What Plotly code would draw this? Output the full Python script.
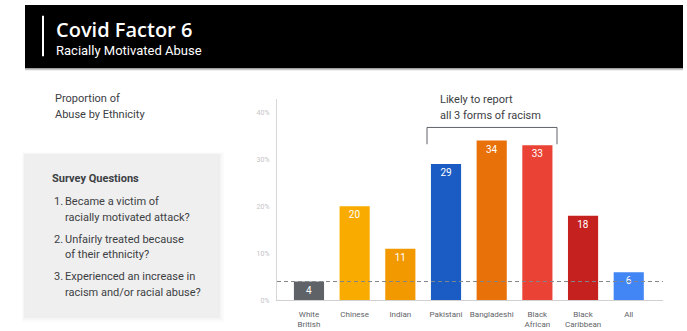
import plotly.graph_objects as go

# Share of respondents reporting racially motivated abuse, by ethnicity
categories = ["White British", "Chinese", "Indian", "Pakistani",
              "Bangladeshi", "Black African", "Black Caribbean", "All"]
tick_labels = ["White<br>British", "Chinese", "Indian", "Pakistani",
               "Bangladeshi", "Black<br>African", "Black<br>Caribbean", "All"]
values = [4, 20, 11, 29, 34, 33, 18, 6]
bar_colors = ["#5f6368", "#f9ab00", "#f29900", "#1a5cc4",
              "#e8710a", "#ea4335", "#c5221f", "#4285f4"]
y_ticks = [0, 10, 20, 30, 40]
y_tick_text = ["0%", "10%", "20%", "30%", "40%"]
reference_level = values[0]  # White British baseline

questions = [
    ("1.", ["Became a victim of", "racially motivated attack?"]),
    ("2.", ["Unfairly treated because", "of their ethnicity?"]),
    ("3.", ["Experienced an increase in", "racism and/or racial abuse?"]),
]

W, H = 687, 331


def px(x):
    return x / W


def py(y):
    return 1 - y / H


BODY = "Roboto, Open Sans, sans-serif"
TEXT = "#3c4043"

fig = go.Figure(
    go.Bar(
        x=categories,
        y=values,
        marker=dict(color=bar_colors, line=dict(width=0)),
        text=[str(v) for v in values],
        textposition="inside",
        insidetextanchor="end",
        textfont=dict(color="white", size=10, family=BODY),
        width=0.66,
        hoverinfo="x+y",
    )
)

fig.update_layout(
    width=W,
    height=H,
    margin=dict(l=0, r=0, t=0, b=0, pad=0),
    paper_bgcolor="white",
    plot_bgcolor="white",
    showlegend=False,
    uniformtext=dict(minsize=9, mode="show"),
    xaxis=dict(
        domain=[px(277), px(663)],
        range=[-0.7, 7.75],
        tickmode="array",
        tickvals=categories,
        ticktext=tick_labels,
        tickfont=dict(size=8, color="#5f6368", family=BODY),
        ticklabelstandoff=6,
        showline=True,
        linecolor="#d0d0d0",
        linewidth=1,
        showgrid=False,
        ticks="",
        zeroline=False,
        fixedrange=True,
    ),
    yaxis=dict(
        domain=[py(304), py(100)],
        range=[0, 42.9],
        tickmode="array",
        tickvals=y_ticks,
        ticktext=y_tick_text,
        tickfont=dict(size=7, color="#c4c4c4", family=BODY),
        showline=True,
        linecolor="#d8d8d8",
        linewidth=1,
        showgrid=False,
        ticks="",
        ticklabelstandoff=5,
        zeroline=False,
        fixedrange=True,
    ),
)

shapes = [
    # header band with soft underline
    dict(type="rect", xref="paper", yref="paper", x0=px(25), x1=px(683),
         y0=py(71), y1=py(69), fillcolor="#c8c8c8", line=dict(width=0), layer="below"),
    dict(type="rect", xref="paper", yref="paper", x0=px(25), x1=px(683),
         y0=py(69), y1=py(5), fillcolor="black", line=dict(width=0), layer="below"),
    dict(type="rect", xref="paper", yref="paper", x0=px(42), x1=px(44),
         y0=py(57), y1=py(16), fillcolor="white", line=dict(width=0)),
]

# survey panel with a faint drop shadow
for g, op in [(6, 0.015), (4, 0.02), (2, 0.03)]:
    shapes.append(dict(type="rect", xref="paper", yref="paper",
                       x0=px(25 - g / 2), x1=px(218 + g), y0=py(320 + g), y1=py(157 - g / 2),
                       fillcolor=f"rgba(0,0,0,{op})", line=dict(width=0), layer="below"))
shapes.append(dict(type="rect", xref="paper", yref="paper",
                   x0=px(25), x1=px(218), y0=py(320), y1=py(157),
                   fillcolor="#efefef", line=dict(width=0), layer="below"))

# bracket over the three highest groups
shapes.append(dict(type="path", xref="paper", yref="paper",
                   path=(f"M {px(427)},{py(146)} L {px(427)},{py(129)} "
                         f"L {px(557)},{py(129)} L {px(557)},{py(146)}"),
                   line=dict(color="#5f6368", width=1)))

# dashed reference line at the White British level
shapes.append(dict(type="line", xref="paper", yref="y",
                   x0=px(277), x1=px(663), y0=reference_level, y1=reference_level,
                   line=dict(color="#80868b", width=1, dash="4px,3px")))

fig.update_layout(shapes=shapes)

ann = []


def label(x, y, text, size, color=TEXT, bold=False, family=BODY, anchor="left", weight=None):
    font = dict(size=size, color=color, family=family)
    if weight:
        font["weight"] = weight
    ann.append(dict(xref="paper", yref="paper", x=px(x), y=py(y),
                    xanchor=anchor, yanchor="middle", showarrow=False,
                    text=f"<b>{text}</b>" if bold else text, font=font))


label(54, 30, "Covid Factor 6", 20, color="white", family="Open Sans, sans-serif", weight=600)
label(54, 51, "Racially Motivated Abuse", 13, color="white")

label(53, 100, "Proportion of", 11)
label(53, 116, "Abuse by Ethnicity", 11)

label(50, 181, "Survey Questions", 11, bold=True)
y0 = 204
for num, lines in questions:
    label(52, y0, num, 11)
    label(63, y0, lines[0], 11)
    label(63, y0 + 16, lines[1], 11)
    y0 += 38

label(438, 101, "Likely to report", 11)
label(438, 117, "all 3 forms of racism", 11)

fig.update_layout(annotations=ann)

fig.write_html("out.html")
